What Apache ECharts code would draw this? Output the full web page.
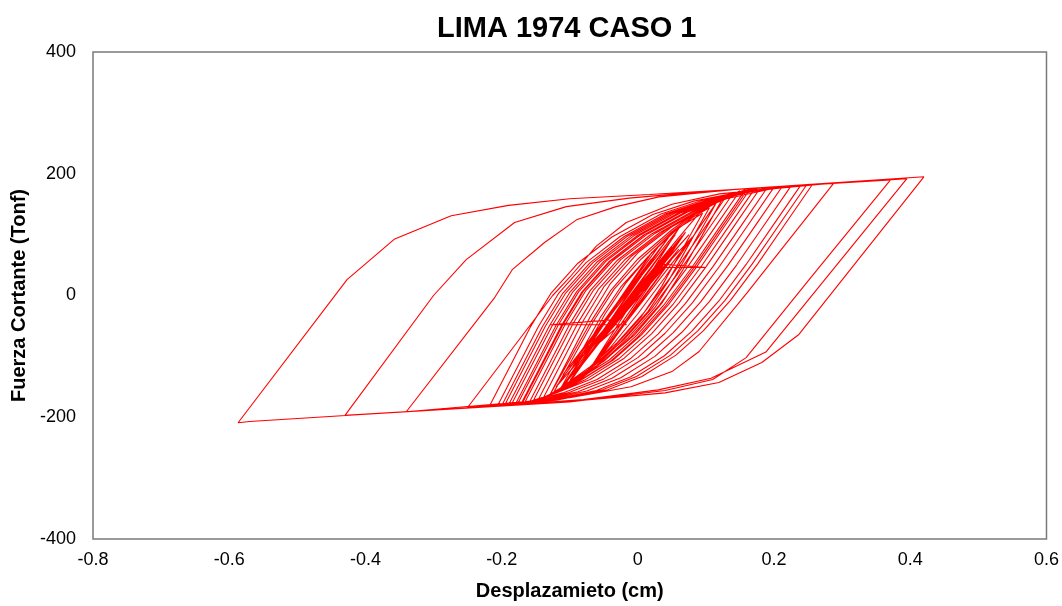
<!DOCTYPE html>
<html>
<head>
<meta charset="utf-8">
<script src="https://cdn.jsdelivr.net/npm/echarts@6/dist/echarts.min.js"></script>
<style>
html,body{margin:0;padding:0;background:#fff;}
#c{width:1062px;height:606px;}
</style>
</head>
<body>
<div id="c"></div>
<script>
// Each entry: [displacement (cm), shear force (Tonf)], in time order
const elasticStart = [
  [0,0],[0.015,22],[-0.02,-25],[0.03,42],[-0.035,-45],[0.025,38],[-0.045,-60],[0.04,58],[-0.05,-70],
  [0.0,-4],[0.035,46],[0.1,46],[0.03,52],[0.05,72],[-0.055,-76],[-0.02,-42],[-0.017,-48],[-0.129,-48],
  [-0.04,-40],[0.055,82],[-0.075,-96],[0.04,88],[-0.09,-122],[0.06,76],[-0.075,-128],[0.065,98],
  [-0.1,-125],[0.02,70],[-0.105,-140],[0.05,60],[-0.06,-110],[0.07,104],[-0.1,-140],
  [0.02,60],[-0.11,-130],[0.045,95],[-0.085,-100],[0.075,100],[-0.12,-150],[0.03,80],[-0.095,-110],
  [0.06,110],[-0.07,-120],[0.08,96],[-0.1,-118],[0.04,50],[-0.115,-155],[0.055,100],[-0.1,-140]
];
const growthCycles = [
  [-0.06,-80],[-0.02,-20],[0.02,40],[0.06,95],[0.09,135],[0.12,160],
  [0.08,95],[0.04,30],[0.0,-30],[-0.04,-85],[-0.08,-130],[-0.13,-165],
  [-0.1,-100],[-0.07,-35],[-0.04,20],[0.0,70],[0.05,113],[0.11,150],[0.16,172],
  [0.12,107],[0.08,42],[0.04,-18],[0.0,-68],[-0.04,-108],[-0.09,-143],[-0.13,-164],[-0.17,-178],
  [-0.14,-113],[-0.11,-48],[-0.08,7],[-0.04,57],[0.01,100],[0.07,137],[0.13,159],[0.212,179],
  [0.172,114],[0.132,49],[0.092,-11],[0.052,-61],[0.012,-101],[-0.038,-136],[-0.088,-158],[-0.16,-175],[-0.25,-184]
];
const largeCycles = [
  [-0.125,0],[-0.1,30],[-0.061,81],[-0.017,120],[0.05,150],[0.12,167],[0.288,185],
  [0.16,4],[0.09,-92],[0.05,-125],[-0.01,-150],[-0.1,-168],[-0.34,-191],
  [-0.21,-3],[-0.184,43],[-0.137,87],[-0.089,125],[-0.032,146],[0.031,162],[0.15,175],[0.371,190],
  [0.25,24],[0.159,-102],[0.11,-138],[0.04,-156],[-0.1,-175],[-0.43,-197],
  [-0.30,0],[-0.252,59],[-0.181,120],[-0.105,146],[-0.013,160],[0.1,171],[0.42,195],
  [0.2365,-64],[0.182,-110],[0.119,-143],[0.04,-160],[-0.1,-174],[-0.3,-188],[-0.57,-207],[-0.587,-209],
  [-0.427,26],[-0.357,93],[-0.274,131],[-0.19,148],[-0.1,159],[0.017,166],[0.2,178],[0.395,192],
  [0.188,-93],[0.1075,-136],[0.03,-155],[-0.08,-171],[-0.218,-182]
];
const innerCycles = [
  [-0.188,-117],[-0.158,-52],[-0.128,3],[-0.088,53],[-0.038,96],[0.022,133],[0.082,155],[0.16,172],[0.256,182],
  [0.216,117],[0.176,52],[0.136,-8],[0.096,-58],[0.056,-98],[0.006,-133],[-0.044,-155],[-0.12,-172],[-0.206,-181],
  [-0.176,-116],[-0.146,-51],[-0.116,4],[-0.076,54],[-0.026,97],[0.034,134],[0.094,156],[0.165,172],[0.248,182],
  [0.208,117],[0.168,52],[0.128,-8],[0.088,-58],[0.048,-98],[-0.002,-133],[-0.052,-155],[-0.125,-172],[-0.2,-181],
  [-0.17,-116],[-0.14,-51],[-0.11,4],[-0.07,54],[-0.02,97],[0.04,134],[0.1,156],[0.17,171],[0.239,181],
  [0.199,116],[0.159,51],[0.119,-9],[0.079,-59],[0.039,-99],[-0.011,-134],[-0.061,-156],[-0.13,-172],[-0.196,-181],
  [-0.166,-116],[-0.136,-51],[-0.106,4],[-0.066,54],[-0.016,97],[0.044,134],[0.104,156],[0.165,170],[0.225,180],
  [0.185,115],[0.145,50],[0.105,-10],[0.065,-60],[0.025,-100],[-0.025,-135],[-0.075,-157],[-0.135,-172],[-0.19,-180],
  [-0.16,-115],[-0.13,-50],[-0.1,5],[-0.06,55],[-0.01,98],[0.05,135],[0.11,157],[0.165,171],[0.212,179],
  [0.172,114],[0.132,49],[0.092,-11],[0.052,-61],[0.012,-101],[-0.038,-136],[-0.088,-158],[-0.14,-172],[-0.186,-180],
  [-0.156,-115],[-0.126,-50],[-0.096,5],[-0.056,55],[-0.006,98],[0.054,135],[0.114,157],[0.16,170],[0.2,178],
  [0.16,113],[0.12,48],[0.08,-12],[0.04,-62],[0.0,-102],[-0.05,-137],[-0.1,-159],[-0.145,-172],[-0.18,-179],
  [-0.15,-114],[-0.12,-49],[-0.09,6],[-0.05,56],[0.0,99],[0.06,136],[0.12,158],[0.19,177],
  [0.15,112],[0.11,47],[0.07,-13],[0.03,-63],[-0.01,-103],[-0.06,-138],[-0.11,-160],[-0.177,-179],
  [-0.147,-114],[-0.117,-49],[-0.087,6],[-0.047,56],[0.003,99],[0.063,136],[0.123,158],[0.18,177],
  [0.14,112],[0.1,47],[0.06,-13],[0.02,-63],[-0.02,-103],[-0.07,-138],[-0.12,-160],[-0.172,-179],
  [-0.142,-114],[-0.112,-49],[-0.082,6],[-0.042,56],[0.008,99],[0.068,136],[0.125,158],[0.172,176],
  [0.132,111],[0.092,46],[0.052,-14],[0.012,-64],[-0.028,-104],[-0.078,-139],[-0.12,-160],[-0.167,-178],
  [-0.137,-113],[-0.107,-48],[-0.077,7],[-0.037,57],[0.013,100],[0.073,137],[0.125,158],[0.165,175],
  [0.125,110],[0.085,45],[0.045,-15],[0.005,-65],[-0.035,-105],[-0.085,-140],[-0.125,-161],[-0.16,-177],
  [-0.13,-112],[-0.1,-47],[-0.07,8],[-0.03,58],[0.02,101],[0.08,138],[0.125,158],[0.158,174],
  [0.118,109],[0.078,44],[0.038,-16],[-0.002,-66],[-0.042,-106],[-0.092,-141],[-0.125,-160],[-0.155,-176],
  [-0.125,-111],[-0.095,-46],[-0.065,9],[-0.025,59],[0.025,102],[0.085,139],[0.125,157],[0.15,172],
  [0.11,107],[0.07,42],[0.03,-18],[-0.01,-68],[-0.05,-108],[-0.1,-143],[-0.148,-175],
  [-0.118,-110],[-0.088,-45],[-0.058,10],[-0.018,60],[0.032,103],[0.09,140],[0.14,168],
  [0.1,103],[0.06,38],[0.02,-22],[-0.02,-72],[-0.06,-112],[-0.1,-145],[-0.14,-171],
  [-0.11,-106],[-0.08,-41],[-0.05,14],[-0.01,64],[0.04,107],[0.095,142],[0.13,163],
  [0.09,98],[0.05,33],[0.01,-27],[-0.03,-77],[-0.07,-117],[-0.13,-165]
];
const decayCycles = [
  [-0.1,-105],[-0.07,-45],[-0.04,8],[0.0,60],[0.05,108],[0.09,140],[0.125,160],
  [0.095,100],[0.065,40],[0.035,-13],[-0.005,-65],[-0.055,-112],[-0.09,-142],[-0.125,-162],
  [-0.095,-102],[-0.065,-42],[-0.035,10],[0.005,60],[0.05,105],[0.085,134],[0.115,152],
  [0.085,92],[0.055,32],[0.025,-20],[-0.015,-70],[-0.055,-112],[-0.085,-138],[-0.115,-156],
  [-0.085,-96],[-0.055,-36],[-0.025,14],[0.015,64],[0.055,106],[0.08,128],[0.105,144],
  [0.075,84],[0.045,24],[0.015,-26],[-0.025,-76],[-0.06,-115],[-0.085,-135],[-0.108,-150],
  [-0.078,-90],[-0.048,-30],[-0.018,20],[0.02,70],[0.055,108],[0.095,135],
  [0.065,75],[0.035,15],[0.005,-35],[-0.035,-85],[-0.07,-120],[-0.1,-143]
];
const elasticEnd = [
  [-0.02,-15],[0.06,95],[-0.01,0],[-0.09,-125],[0.0,10],[0.05,80],[-0.07,-95],[0.04,60],
  [-0.04,-55],[0.02,30],[-0.01,-15],[0,0]
];
const xTicks = [-0.8, -0.6, -0.4, -0.2, 0, 0.2, 0.4, 0.6];
const yTicks = [-400, -200, 0, 200, 400];

const pts = [].concat(elasticStart, growthCycles, largeCycles, innerCycles, decayCycles, elasticEnd);
const FONT = '"Liberation Sans", Arial, sans-serif';

const chart = echarts.init(document.getElementById('c'), null, {renderer: 'canvas'});
chart.setOption({
  animation: false,
  backgroundColor: '#ffffff',
  title: {
    text: 'LIMA 1974 CASO 1',
    left: 432, top: 9,
    textStyle: {fontSize: 29, fontWeight: 'bold', color: '#000', fontFamily: FONT}
  },
  grid: {left: 93, right: 14, top: 52, bottom: 65, show: true, borderColor: '#7a7a7a', borderWidth: 1.5, backgroundColor: 'transparent'},
  xAxis: {
    type: 'value', min: xTicks[0], max: xTicks[xTicks.length - 1], interval: 0.2,
    splitLine: {show: false}, axisLine: {show: false}, axisTick: {show: false},
    axisLabel: {fontSize: 18, color: '#000', margin: 12, fontFamily: FONT,
      formatter: v => (Math.abs(v) < 1e-9 ? '0' : v.toFixed(1))},
    name: 'Desplazamieto (cm)', nameLocation: 'middle', nameGap: 42,
    nameTextStyle: {fontSize: 20, fontWeight: 'bold', color: '#000', fontFamily: FONT}
  },
  yAxis: {
    type: 'value', min: yTicks[0], max: yTicks[yTicks.length - 1], interval: 200,
    splitLine: {show: false}, axisLine: {show: false}, axisTick: {show: false},
    axisLabel: {fontSize: 18, color: '#000', margin: 17, fontFamily: FONT},
    name: 'Fuerza Cortante (Tonf)', nameLocation: 'middle', nameGap: 62,
    nameTextStyle: {fontSize: 20, fontWeight: 'bold', color: '#000', fontFamily: FONT}
  },
  series: [{
    type: 'line', data: pts, showSymbol: false, symbol: 'none',
    lineStyle: {color: '#ff0000', width: 1.1},
    itemStyle: {color: '#ff0000'}
  }]
});
</script>
</body>
</html>
